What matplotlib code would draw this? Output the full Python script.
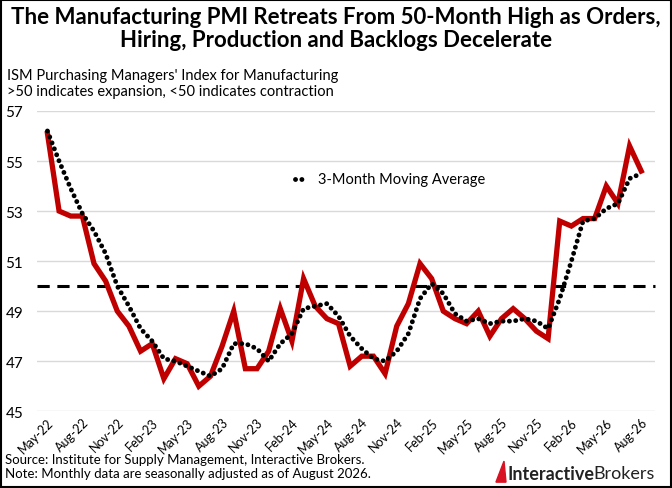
import matplotlib.pyplot as plt
import matplotlib.patches as mpatches
import numpy as np
import pandas as pd

plt.rcParams['font.family'] = ['Lato', 'DejaVu Sans']

months = pd.date_range('2022-05-01', '2026-08-01', freq='MS')
pmi = [56.1, 53.0, 52.8, 52.8, 50.9, 50.2, 49.0, 48.4, 47.4, 47.7, 46.3, 47.1,
       46.9, 46.0, 46.4, 47.6, 49.0, 46.7, 46.7, 47.4, 49.1, 47.8, 50.3, 49.2,
       48.7, 48.5, 46.8, 47.2, 47.2, 46.5, 48.4, 49.3, 50.9, 50.3, 49.0, 48.7,
       48.5, 49.0, 48.0, 48.7, 49.1, 48.7, 48.2, 47.9, 52.6, 52.4, 52.7, 52.7,
       54.0, 53.3, 55.6, 54.6]
ma3 = [56.2, 55.0, 53.9, 52.9, 52.2, 51.3, 50.0, 49.2, 48.3, 47.8, 47.1, 47.0,
       46.8, 46.6, 46.4, 46.7, 47.7, 47.7, 47.5, 47.0, 47.7, 48.1, 49.1, 49.2,
       49.3, 48.8, 48.0, 47.5, 47.1, 47.0, 47.4, 48.1, 49.5, 50.1, 49.7, 48.9,
       48.6, 48.7, 48.5, 48.6, 48.6, 48.7, 48.6, 48.3, 49.5, 51.0, 52.6, 52.7,
       53.1, 53.3, 54.3, 54.5]
labels = [m.strftime('%b-%y') for m in months]

fig = plt.figure(figsize=(6.72, 4.89), dpi=100)
ax = fig.add_axes([0.055, 0.157, 0.92, 0.614])
x = np.arange(len(months))

ax.axhline(50, color='black', lw=2.2, ls=(0, (4, 2.5)), zorder=2, clip_on=False)
ax.plot(x, pmi, color='#c00000', lw=3.8, zorder=3, solid_joinstyle='miter')
ax.plot(x, ma3, color='black', lw=3.5, ls=(0, (0.01, 1.3)), dash_capstyle='round', zorder=4)

ax.set_ylim(45, 57)
ax.set_yticks(range(45, 58, 2))
ax.set_xlim(-0.9, len(x) + 0.2)
ax.set_xticks(x[::3])
ax.set_xticklabels(labels[::3], rotation=45, ha='right', rotation_mode='anchor', fontsize=9)
ax.tick_params(axis='y', labelsize=11, length=0, pad=10)
ax.tick_params(axis='x', length=0, pad=3)
ax.grid(axis='y', color='#d9d9d9', lw=1)
for s in ax.spines.values():
    s.set_visible(False)

ax.plot([21.3, 22.2], [54.3, 54.3], color='black', lw=3.5, ls=(0, (0.01, 1.3)), dash_capstyle='round')
ax.text(23.2, 54.3, '3-Month Moving Average', fontsize=10.5, va='center')

fig.text(0.5, 0.985, 'The Manufacturing PMI Retreats From 50-Month High as Orders,\nHiring, Production and Backlogs Decelerate',
         ha='center', va='top', fontsize=16, fontweight='bold', linespacing=1.1)
fig.text(0.01, 0.858, "ISM Purchasing Managers' Index for Manufacturing\n>50 indicates expansion, <50 indicates contraction",
         ha='left', va='top', fontsize=10.5, linespacing=1.15)
fig.text(0.008, 0.045, 'Source: Institute for Supply Management, Interactive Brokers.\nNote: Monthly data are seasonally adjusted as of August 2026.',
         ha='left', va='center', fontsize=9.5, linespacing=1.25)
fig.text(0.755, 0.03, 'Interactive', ha='left', va='center', fontsize=13, fontweight='bold', color='#222222')
fig.text(0.883, 0.03, 'Brokers', ha='left', va='center', fontsize=13, color='#222222')
fig.patches.append(mpatches.Polygon([[0.738, 0.012], [0.75, 0.055], [0.753, 0.012]], closed=True,
                                    transform=fig.transFigure, color='#d81222'))
fig.patches.append(mpatches.Rectangle((0.002, 0.002), 0.996, 0.996, transform=fig.transFigure,
                                      fill=False, ec='black', lw=1.5))

fig.savefig('out.png', dpi=100)
